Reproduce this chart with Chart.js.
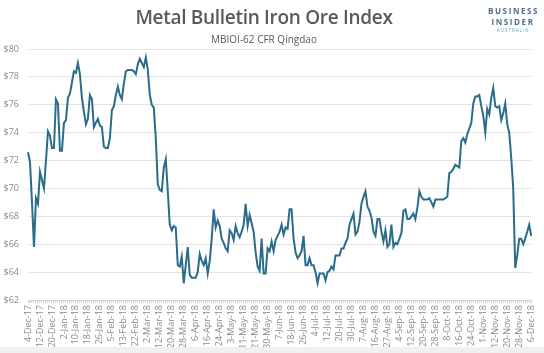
<!DOCTYPE html>
<html>
<head>
<meta charset="utf-8">
<script src="https://cdn.jsdelivr.net/npm/chart.js@4"></script>
<style>
  html, body { margin: 0; padding: 0; background: #ffffff; }
  #wrap { position: relative; width: 544px; height: 353px; overflow: hidden; }
  #chart { position: absolute; left: 0; top: 0; }
  .title { position: absolute; left: 0; width: 528px; text-align: center; color: #595959; font-family: "Open Sans", sans-serif; }
  #t1 { top: 4px; font-size: 19px; font-weight: 600; letter-spacing: -0.3px; }
  #t2 { top: 32px; font-size: 10px; }
  #logo { position: absolute; left: 488px; top: 5px; width: 50px; text-align: center; font-family: "Open Sans", sans-serif; }
  #logo .a { font-size: 8px; font-weight: 700; letter-spacing: 1.6px; color: #4f6f8f; line-height: 11px; }
  #logo .b { font-size: 4.5px; letter-spacing: 1px; color: #5fa3b5; line-height: 6px; }
  #band { position: absolute; left: 0; top: 347px; width: 544px; height: 6px; background: #f0f0f0; }
</style>
</head>
<body>
<div id="wrap">
  <canvas id="chart" width="544" height="353"></canvas>
  <div class="title" id="t1">Metal Bulletin Iron Ore Index</div>
  <div class="title" id="t2">MBIOI-62 CFR Qingdao</div>
  <div id="logo"><div class="a">BUSINESS</div><div class="a">INSIDER</div><div class="b">AUSTRALIA</div></div>
  <div id="band"></div>
</div>
<script>
// one tick label every 6 trading days
var tickLabels = ["4-Dec-17", "12-Dec-17", "20-Dec-17", "2-Jan-18", "10-Jan-18", "18-Jan-18", "26-Jan-18",
  "5-Feb-18", "13-Feb-18", "22-Feb-18", "2-Mar-18", "12-Mar-18", "20-Mar-18", "28-Mar-18", "6-Apr-18",
  "16-Apr-18", "24-Apr-18", "3-May-18", "11-May-18", "21-May-18", "30-May-18", "7-Jun-18", "18-Jun-18",
  "26-Jun-18", "4-Jul-18", "12-Jul-18", "20-Jul-18", "30-Jul-18", "7-Aug-18", "16-Aug-18", "27-Aug-18",
  "4-Sep-18", "12-Sep-18", "20-Sep-18", "28-Sep-18", "8-Oct-18", "16-Oct-18", "24-Oct-18", "1-Nov-18",
  "12-Nov-18", "20-Nov-18", "28-Nov-18", "6-Dec-18"];
var tickEvery = 6;

// MBIOI-62 daily price, USD/t
var prices = [
  72.6, 71.9, 69.0, 65.8, 69.3, 68.9, 71.2, 70.6, 70.0, 72.0,
  74.1, 73.8, 72.9, 72.9, 76.4, 76.1, 72.7, 72.7, 74.7, 74.9,
  76.5, 76.8, 77.6, 78.4, 78.3, 79.0, 78.2, 76.5, 75.5, 74.6,
  75.0, 76.7, 76.4, 74.4, 74.7, 75.0, 74.5, 74.4, 73.0, 72.9,
  72.9, 73.6, 75.6, 75.9, 76.7, 77.3, 76.7, 76.4, 77.5, 78.4,
  78.5, 78.5, 78.5, 78.4, 78.2, 78.9, 79.3, 79.0, 78.7, 79.4,
  78.5, 76.7, 76.0, 75.8, 73.6, 70.3, 69.9, 69.8, 71.5, 72.1,
  69.8, 67.4, 67.0, 67.3, 67.2, 64.5, 64.4, 65.1, 63.2, 64.5,
  65.8, 63.8, 63.6, 63.6, 63.6, 64.0, 65.3, 64.8, 64.5, 65.0,
  63.9, 64.8, 66.4, 68.5, 67.2, 67.7, 67.3, 66.4, 66.1, 65.7,
  65.5, 67.0, 66.8, 66.3, 67.3, 66.8, 66.5, 66.9, 67.4, 68.9,
  67.3, 68.1, 67.5, 66.9, 65.4, 64.4, 64.1, 66.4, 63.9, 63.9,
  65.7, 65.5, 66.2, 65.5, 66.3, 66.6, 66.9, 67.4, 66.7, 67.2,
  67.1, 68.5, 68.5, 66.4, 65.4, 65.0, 65.2, 65.5, 66.6, 64.5,
  64.5, 65.0, 64.5, 64.5, 64.0, 63.2, 63.9, 63.9, 63.9, 63.4,
  64.0, 64.1, 64.4, 64.2, 65.2, 65.2, 65.2, 65.7, 65.7, 66.1,
  66.4, 67.4, 67.8, 68.2, 66.7, 66.9, 67.6, 68.9, 69.4, 69.8,
  68.7, 68.4, 67.9, 66.9, 66.6, 67.8, 67.8, 66.9, 66.2, 67.0,
  65.8, 66.0, 67.4, 65.8, 66.1, 66.0, 66.4, 66.8, 68.4, 68.5,
  67.8, 67.8, 68.0, 68.2, 67.8, 68.6, 69.8, 69.4, 69.2, 69.2,
  69.2, 69.3, 69.0, 68.7, 69.2, 69.2, 69.2, 69.2, 69.2, 69.3,
  69.4, 71.1, 71.2, 71.4, 71.7, 71.6, 71.5, 73.4, 73.6, 73.3,
  73.9, 74.3, 74.7, 76.1, 76.6, 76.6, 76.7, 75.9, 75.2, 74.0,
  75.7, 75.3, 76.5, 77.2, 75.9, 75.8, 75.9, 74.9, 75.4, 76.1,
  74.6, 74.0, 72.2, 70.0, 64.3, 65.2, 66.4, 66.4, 66.0, 66.4,
  66.9, 67.4, 66.6
];

var yMin = 62, yMax = 80, yStep = 2;

var labels = prices.map(function (p, i) {
  return i % tickEvery === 0 ? tickLabels[i / tickEvery] : "";
});

var fontFamily = "'Open Sans', sans-serif";

var chart = new Chart(document.getElementById("chart"), {
  type: "line",
  data: {
    labels: labels,
    datasets: [{
      label: "MBIOI-62",
      data: prices,
      borderColor: "#2a6c8a",
      borderWidth: 2,
      pointRadius: 0,
      tension: 0,
      fill: false
    }]
  },
  options: {
    responsive: false,
    animation: false,
    layout: { padding: { top: 49, right: 12, bottom: 6, left: 0 } },
    plugins: {
      legend: { display: false },
      tooltip: { enabled: false }
    },
    scales: {
      x: {
        afterFit: function (s) { s.height = 47; },
        grid: { display: true, drawOnChartArea: false, drawTicks: true, tickLength: 3, color: "#d4d4d4" },
        border: { display: true, color: "#d4d4d4" },
        ticks: {
          autoSkip: false,
          minRotation: 90,
          maxRotation: 90,
          padding: 2,
          color: "#8a8a8a",
          font: { family: fontFamily, size: 9 }
        }
      },
      y: {
        min: yMin,
        max: yMax,
        afterFit: function (s) { s.width = 28; },
        grid: { color: "#e3e3e3", drawTicks: false },
        border: { display: false },
        ticks: {
          stepSize: yStep,
          padding: 9,
          color: "#8a8a8a",
          font: { family: fontFamily, size: 9 },
          callback: function (v) { return "$" + v; }
        }
      }
    }
  }
});
</script>
</body>
</html>
